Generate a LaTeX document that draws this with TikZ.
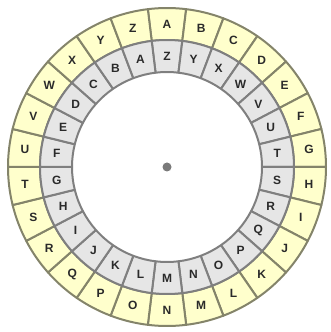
\documentclass[tikz,border=0pt]{standalone}
\usepackage{fontspec}
\setmainfont{Liberation Sans}
\definecolor{yellowc}{HTML}{FFFFCC}
\definecolor{olivec}{HTML}{84846A}
\definecolor{grayc}{HTML}{E6E6E6}
\definecolor{grayd}{HTML}{7F7F7F}
\definecolor{darkc}{HTML}{2A2A2A}
\definecolor{dotc}{HTML}{7A7A7A}
\begin{document}
\begin{tikzpicture}[x=1pt,y=1pt,
  outercell/.style={fill=yellowc, draw=olivec, line width=2pt, line join=round},
  innercell/.style={fill=grayc, draw=grayd, line width=2pt, line join=round},
  lett/.style={font=\bfseries\fontsize{12}{12}\selectfont, text=darkc, inner sep=0pt}]
\useasboundingbox (0,0) rectangle (331,332);
\coordinate (c) at (167,165);
\foreach \L [count=\i from 0] in {A,B,C,D,E,F,G,H,I,J,K,L,M,N,O,P,Q,R,S,T,U,V,W,X,Y,Z}{
  \pgfmathsetmacro\ang{90-360/26*\i}
  \pgfmathsetmacro\aa{\ang-180/26}
  \pgfmathsetmacro\ab{\ang+180/26}
  \draw[outercell] ([shift={(\aa:159)}]c) arc[start angle=\aa, end angle=\ab, radius=159]
     -- ([shift={(\ab:127)}]c) arc[start angle=\ab, end angle=\aa, radius=127] -- cycle;
  \node[lett] (o\i) at ([shift={(\ang:143)}]c) {\L};
}
\foreach \L [count=\i from 0] in {Z,Y,X,W,V,U,T,S,R,Q,P,O,N,M,L,K,J,I,H,G,F,E,D,C,B,A}{
  \pgfmathsetmacro\ang{90-360/26*\i}
  \pgfmathsetmacro\aa{\ang-180/26}
  \pgfmathsetmacro\ab{\ang+180/26}
  \draw[innercell] ([shift={(\aa:127)}]c) arc[start angle=\aa, end angle=\ab, radius=127]
     -- ([shift={(\ab:95)}]c) arc[start angle=\ab, end angle=\aa, radius=95] -- cycle;
  \node[lett] (n\i) at ([shift={(\ang:111)}]c) {\L};
}
\fill[dotc] (c) circle[radius=4.5];
\end{tikzpicture}
\end{document}
